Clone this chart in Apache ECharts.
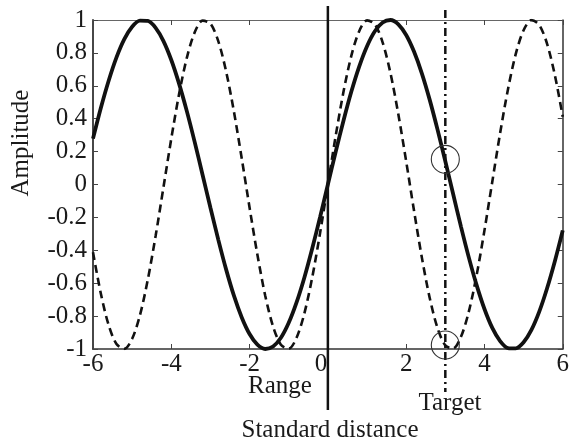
<!DOCTYPE html>
<html>
<head>
<meta charset="utf-8">
<script src="https://cdn.jsdelivr.net/npm/echarts@6/dist/echarts.min.js"></script>
<style>
html,body{margin:0;padding:0;background:#fff;}
#c{width:572px;height:445px;}
</style>
</head>
<body>
<div id="c"></div>
<script>
// Data
const xs = [-6.0,-5.8,-5.6,-5.4,-5.2,-5.0,-4.8,-4.6,-4.4,-4.2,-4.0,-3.8,-3.6,-3.4,-3.2,-3.0,-2.8,-2.6,-2.4,-2.2,-2.0,-1.8,-1.6,-1.4,-1.2,-1.0,-0.8,-0.6,-0.4,-0.2,
  0.0,0.2,0.4,0.6,0.8,1.0,1.2,1.4,1.6,1.8,2.0,2.2,2.4,2.6,2.8,3.0,3.2,3.4,3.6,3.8,4.0,4.2,4.4,4.6,4.8,5.0,5.2,5.4,5.6,5.8,6.0];
const solidWave = [0.279,0.465,0.631,0.773,0.884,0.959,0.996,0.994,0.952,0.872,0.757,0.612,0.443,0.256,0.058,-0.141,-0.335,-0.516,-0.676,-0.808,-0.909,-0.974,-1.000,-0.985,-0.932,-0.841,-0.717,-0.565,-0.389,-0.199,
  0,0.199,0.389,0.565,0.717,0.841,0.932,0.985,1.000,0.974,0.909,0.808,0.676,0.516,0.335,0.141,-0.058,-0.256,-0.443,-0.612,-0.757,-0.872,-0.952,-0.994,-0.996,-0.959,-0.884,-0.773,-0.631,-0.465,-0.279];
const dashedWave = [-0.412,-0.663,-0.855,-0.970,-0.999,-0.938,-0.794,-0.578,-0.312,-0.017,0.279,0.551,0.773,0.926,0.996,0.978,0.872,0.688,0.443,0.158,-0.141,-0.427,-0.676,-0.863,-0.974,-0.998,-0.932,-0.783,-0.565,-0.296,
  0,0.296,0.565,0.783,0.932,0.998,0.974,0.863,0.676,0.427,0.141,-0.158,-0.443,-0.688,-0.872,-0.978,-0.996,-0.926,-0.773,-0.551,-0.279,0.017,0.312,0.578,0.794,0.938,0.999,0.970,0.855,0.663,0.412];
const referenceX = 0;          // "Standard distance" vertical line
const targetX = 3;             // "Target" dash-dot line
const circlePoints = [[3, 0.153], [3, -0.976]];
const xLimits = [-6, 6];
const yLimits = [-1, 1];
const annotations = ['Amplitude', 'Range', 'Target', 'Standard distance'];

const FONT = 'Liberation Serif';
const FS = 25;
const chart = echarts.init(document.getElementById('c'), null, {renderer: 'canvas'});

const solidData = xs.map((x, i) => [x, solidWave[i]]);
const dashedData = xs.map((x, i) => [x, dashedWave[i]]);

const baseAxis = {
  type: 'value',
  splitLine: {show: false},
  axisTick: {show: true, inside: true, length: 5, lineStyle: {color: '#444', width: 1}},
};

chart.setOption({
  animation: false,
  backgroundColor: '#fff',
  grid: {left: 93, right: 5, top: 20, bottom: 96, containLabel: false},
  xAxis: [
    Object.assign({}, baseAxis, {
      min: xLimits[0], max: xLimits[1], interval: 2, position: 'bottom',
      axisLine: {show: true, onZero: false, lineStyle: {color: '#333', width: 1.5}},
      axisLabel: {color: '#1a1a1a', fontFamily: FONT, fontSize: FS, margin: 3,
        formatter: v => v === 0 ? '{z|0}' : String(v),
        rich: {z: {fontFamily: FONT, fontSize: FS, color: '#1a1a1a', padding: [0, 14, 0, 0]}}}
    }),
    Object.assign({}, baseAxis, {
      min: xLimits[0], max: xLimits[1], interval: 2, position: 'top',
      axisLine: {show: true, onZero: false, lineStyle: {color: '#666', width: 1}},
      axisLabel: {show: false}
    })
  ],
  yAxis: [
    Object.assign({}, baseAxis, {
      min: yLimits[0], max: yLimits[1], interval: 0.2, position: 'left',
      axisLine: {show: true, onZero: false, lineStyle: {color: '#333', width: 1.8}},
      axisLabel: {color: '#1a1a1a', fontFamily: FONT, fontSize: FS, margin: 6,
        formatter: v => String(Math.round(v * 10) / 10)}
    }),
    Object.assign({}, baseAxis, {
      min: yLimits[0], max: yLimits[1], interval: 0.2, position: 'right',
      axisLine: {show: true, onZero: false, lineStyle: {color: '#333', width: 1.5}},
      axisLabel: {show: false}
    })
  ],
  series: [
    {
      type: 'line', data: dashedData, showSymbol: false, smooth: 0.3,
      xAxisIndex: 0, yAxisIndex: 0,
      lineStyle: {color: '#111', width: 2.6, type: [8, 5]}
    },
    {
      type: 'line', data: solidData, showSymbol: false, smooth: 0.3,
      xAxisIndex: 0, yAxisIndex: 0,
      lineStyle: {color: '#111', width: 3.8}
    }
  ]
});

const px0 = chart.convertToPixel({xAxisIndex: 0}, referenceX);
const pxT = chart.convertToPixel({xAxisIndex: 0}, targetX);
const circles = circlePoints.map(p => {
  const c = chart.convertToPixel({xAxisIndex: 0, yAxisIndex: 0}, p);
  return {type: 'circle', shape: {cx: c[0], cy: c[1], r: 14},
    style: {fill: null, stroke: '#333', lineWidth: 1.1}, z: 10};
});
const font = FS + 'px "' + FONT + '"';
const txt = (t, x, y, rot) => ({type: 'text', x: x, y: y, rotation: rot || 0,
  style: {text: t, font: font, fill: '#1a1a1a', align: 'center', verticalAlign: 'middle'}, z: 10});

chart.setOption({
  graphic: [
    {type: 'line', shape: {x1: px0, y1: 6, x2: px0, y2: 410},
      style: {stroke: '#111', lineWidth: 2.5}, z: 10},
    {type: 'line', shape: {x1: pxT, y1: 10, x2: pxT, y2: 392},
      style: {stroke: '#111', lineWidth: 2.5, lineDash: [8, 4, 2, 4]}, z: 10},
    ...circles,
    txt(annotations[0], 21, 143, Math.PI / 2),
    txt(annotations[1], 280, 386),
    txt(annotations[2], 450, 403),
    txt(annotations[3], 330, 430)
  ]
});
</script>
</body>
</html>
